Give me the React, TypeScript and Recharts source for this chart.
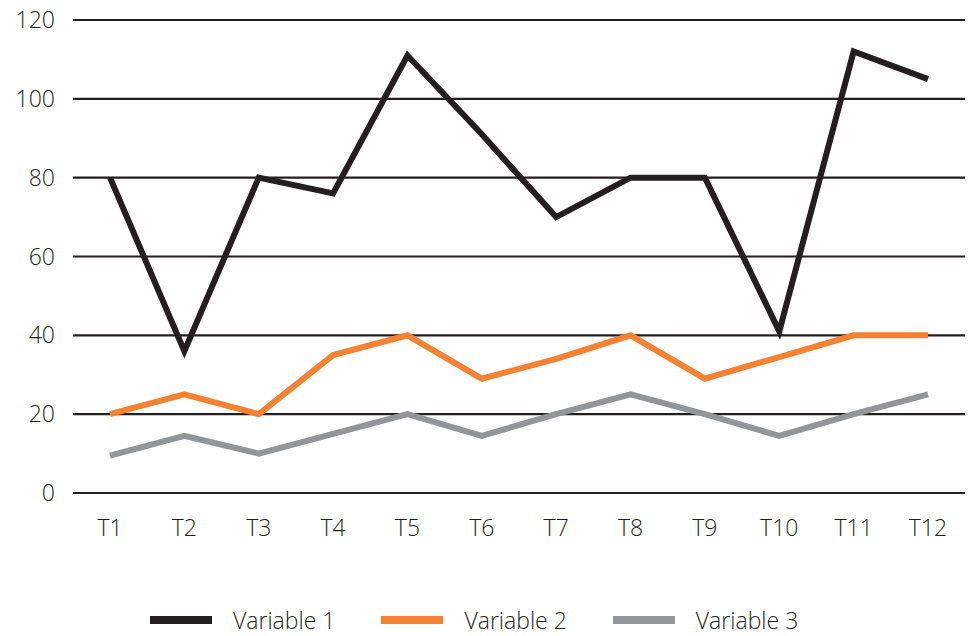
import { LineChart, Line, XAxis, YAxis, CartesianGrid, Legend } from "recharts";

const periods = ["T1", "T2", "T3", "T4", "T5", "T6", "T7", "T8", "T9", "T10", "T11", "T12"];
const variable1 = [80, 36, 80, 76, 111, 91, 70, 80, 80, 41, 112, 105];
const variable2 = [20, 25, 20, 35, 40, 29, 34, 40, 29, 34.5, 40, 40];
const variable3 = [9.5, 14.5, 10, 15, 20, 14.5, 20, 25, 20, 14.5, 20, 25];
const yTicks = [0, 20, 40, 60, 80, 100, 120];

const series = [
  { key: "v1", name: "Variable 1", color: "#231f20" },
  { key: "v2", name: "Variable 2", color: "#f58232" },
  { key: "v3", name: "Variable 3", color: "#939598" },
];

const data = periods.map((p, i) => ({
  period: p,
  v1: variable1[i],
  v2: variable2[i],
  v3: variable3[i],
}));

const FONT = "'Open Sans', sans-serif";
const tickStyle = { fontFamily: FONT, fontSize: 23, fontWeight: 300, fill: "#231f20" };

function LegendContent() {
  return (
    <div style={{ display: "flex", paddingLeft: 150, gap: 46, fontFamily: FONT, fontWeight: 300, fontSize: 23, color: "#231f20" }}>
      {series.map((s) => (
        <div key={s.key} style={{ display: "flex", alignItems: "center", gap: 21 }}>
          <div style={{ width: 62, height: 8, background: s.color }} />
          <span>{s.name}</span>
        </div>
      ))}
    </div>
  );
}

export default function App() {
  return (
    <div style={{ position: "absolute", top: 0, left: 0, width: 973, height: 636, background: "#fff" }}>
      <LineChart width={973} height={636} data={data} margin={{ top: 20, right: 8, left: 0, bottom: 0 }}>
        <CartesianGrid vertical={false} stroke="#231f20" strokeWidth={2.2} />
        <XAxis
          dataKey="period"
          axisLine={false}
          tickLine={false}
          tickSize={0}
          tickMargin={27}
          height={111}
          padding={{ left: 37, right: 37 }}
          tick={tickStyle}
          interval={0}
        />
        <YAxis
          domain={[0, 120]}
          ticks={yTicks}
          axisLine={false}
          tickLine={false}
          tickSize={0}
          tickMargin={18}
          width={73}
          tick={tickStyle}
        />
        <Legend content={<LegendContent />} wrapperStyle={{ top: 604, left: 0, width: 973 }} />
        {series.map((s) => (
          <Line
            key={s.key}
            dataKey={s.key}
            name={s.name}
            stroke={s.color}
            strokeWidth={6}
            strokeLinejoin="miter"
            dot={false}
            activeDot={false}
            type="linear"
            isAnimationActive={false}
          />
        ))}
      </LineChart>
    </div>
  );
}
